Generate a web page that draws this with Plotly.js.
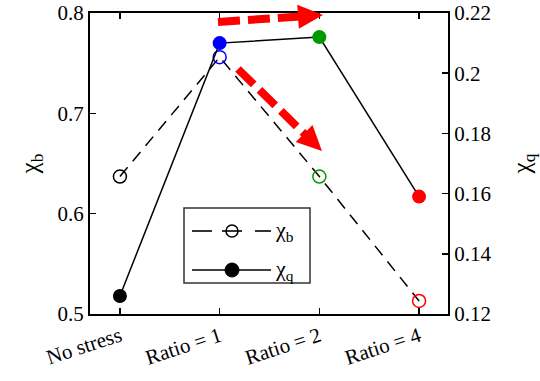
<!DOCTYPE html>
<html>
<head>
<meta charset="utf-8">
<script src="https://cdn.plot.ly/plotly-3.0.1.min.js"></script>
<style>html,body{margin:0;padding:0;background:#fff;}#chart{width:540px;height:381px;}</style>
</head>
<body>
<div id="chart"></div>
<script>
// ---- data ----
const categories = ['No stress', 'Ratio = 1', 'Ratio = 2', 'Ratio = 4'];
const chiB = [0.637, 0.756, 0.637, 0.513];
const chiQ = [0.126, 0.210, 0.212, 0.159];
const pointColors = ['#000000', '#0000ff', '#009900', '#ff0000'];
const nameB = 'χ<sub>b</sub>';
const nameQ = 'χ<sub>q</sub>';

// ---- layout helpers ----
const W = 540, H = 381;
const M = {l: 90, r: 92, t: 13, b: 67};
const pw = W - M.l - M.r, ph = H - M.t - M.b;
const FONT = 'Liberation Serif';
function px(x) { return (x - M.l) / pw; }
function py(y) { return (H - M.b - y) / ph; }

function arrowShapes(tx, ty, hx, hy) {
  const dx = hx - tx, dy = hy - ty, L = Math.hypot(dx, dy);
  const ux = dx / L, uy = dy / L, nx = -uy, ny = ux;
  const headLen = 25, hw = 12;
  const bx = hx - ux * headLen, by = hy - uy * headLen;
  const shaft = {type: 'line', xref: 'paper', yref: 'paper',
    x0: px(tx), y0: py(ty), x1: px(bx + ux * 2), y1: py(by + uy * 2),
    line: {color: '#ff0000', width: 8, dash: '22px,8px'}};
  const head = {type: 'path', xref: 'paper', yref: 'paper',
    path: 'M ' + px(bx + nx * hw) + ',' + py(by + ny * hw) +
          ' L ' + px(hx) + ',' + py(hy) +
          ' L ' + px(bx - nx * hw) + ',' + py(by - ny * hw) + ' Z',
    fillcolor: '#ff0000', line: {width: 0}};
  return [shaft, head];
}

// legend (drawn manually)
const lg = {x0: 184, x1: 310, y0: 208, y1: 283, r1: 231, r2: 270};
function circ(cx, cy, r, fill, lineColor, lw) {
  return {type: 'circle', xref: 'paper', yref: 'paper',
    x0: px(cx - r), x1: px(cx + r), y0: py(cy + r), y1: py(cy - r),
    fillcolor: fill, line: {color: lineColor, width: lw}};
}
function seg(x0, y0, x1, y1, w) {
  return {type: 'line', xref: 'paper', yref: 'paper',
    x0: px(x0), y0: py(y0), x1: px(x1), y1: py(y1), line: {color: '#000', width: w}};
}
const legendShapes = [
  {type: 'rect', xref: 'paper', yref: 'paper', x0: px(lg.x0), x1: px(lg.x1), y0: py(lg.y1), y1: py(lg.y0),
   fillcolor: '#ffffff', line: {color: '#333333', width: 1.5}},
  seg(192, lg.r1, 212, lg.r1, 1.6),
  seg(222, lg.r1, 242, lg.r1, 1.6),
  seg(255, lg.r1, 271, lg.r1, 1.6),
  circ(232, lg.r1, 6, 'rgba(0,0,0,0)', '#000', 1.5),
  seg(192, lg.r2, 271, lg.r2, 1.6),
  circ(232, lg.r2, 7, '#000', '#000', 1)
];
legendShapes.forEach(s => s.layer = 'above');

const shapes = [].concat(
  arrowShapes(218, 22, 323, 15),
  arrowShapes(238, 69, 322, 151),
  legendShapes
);

const traces = [
  {x: categories, y: chiB, name: nameB, type: 'scatter', mode: 'lines+markers', yaxis: 'y',
   line: {color: '#000', width: 1.5, dash: '12px,8px'},
   marker: {symbol: 'circle-open', size: 13, color: pointColors, line: {width: 1.5}},
   cliponaxis: false, showlegend: false},
  {x: categories, y: chiQ, name: nameQ, type: 'scatter', mode: 'lines+markers', yaxis: 'y2',
   line: {color: '#000', width: 1.5},
   marker: {symbol: 'circle', size: 14, color: pointColors},
   cliponaxis: false, showlegend: false}
];

const axisCommon = {showgrid: false, zeroline: false, showline: true, linecolor: '#000', linewidth: 2,
  ticks: 'inside', ticklen: 6, tickwidth: 1.5, tickcolor: '#000',
  tickfont: {family: FONT, size: 21, color: '#000'}};

const layout = {
  width: W, height: H, margin: M, paper_bgcolor: '#fff', plot_bgcolor: '#fff',
  showlegend: false,
  font: {family: FONT, color: '#000', size: 21},
  xaxis: Object.assign({}, axisCommon, {type: 'category', range: [-0.3, 3.29], mirror: 'ticks', tickangle: -18}),
  yaxis: Object.assign({}, axisCommon, {range: [0.5, 0.8], dtick: 0.1, tick0: 0.5, side: 'left',
    title: {text: nameB, font: {family: FONT, size: 25}, standoff: 12}}),
  yaxis2: Object.assign({}, axisCommon, {range: [0.12, 0.22], dtick: 0.02, tick0: 0.12, side: 'right', overlaying: 'y',
    title: {text: nameQ, font: {family: FONT, size: 25}, standoff: 22}}),
  shapes: shapes,
  annotations: [
    {xref: 'paper', yref: 'paper', x: px(273), y: py(lg.r1), xanchor: 'left', yanchor: 'middle', showarrow: false,
     text: nameB, font: {family: FONT, size: 22, color: '#000'}},
    {xref: 'paper', yref: 'paper', x: px(273), y: py(lg.r2), xanchor: 'left', yanchor: 'middle', showarrow: false,
     text: nameQ, font: {family: FONT, size: 22, color: '#000'}}
  ]
};

Plotly.newPlot('chart', traces, layout, {staticPlot: true, displayModeBar: false});
</script>
</body>
</html>
